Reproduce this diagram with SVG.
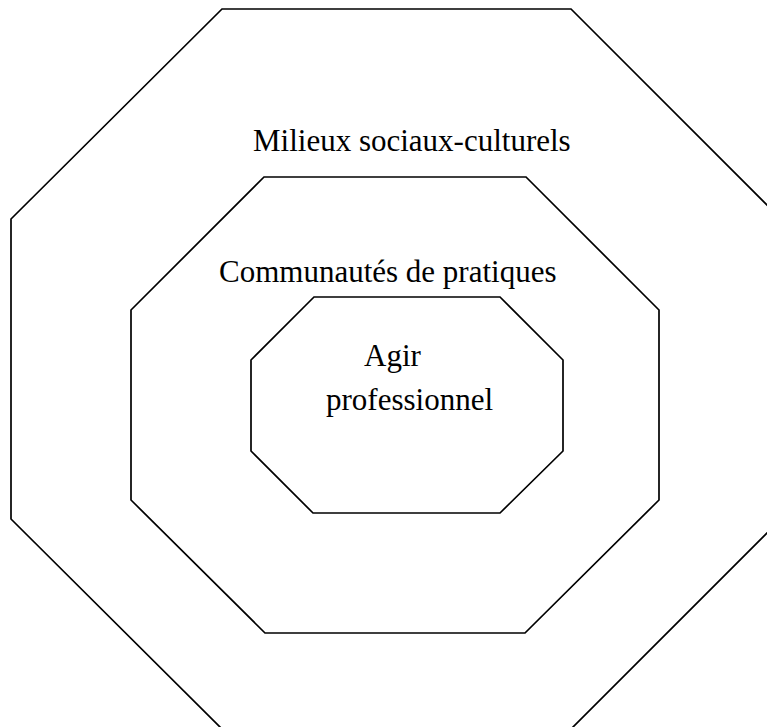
<svg xmlns="http://www.w3.org/2000/svg" width="767" height="727" viewBox="0 0 767 727">
<style>
.oct{fill:none;stroke:#000;stroke-width:1.7;stroke-linejoin:miter}
.lbl{font-family:"Liberation Serif","Times New Roman",serif;font-size:31px;fill:#000}
</style>
<rect width="767" height="727" fill="#fff"/>
<g id="outer">
<polygon class="oct" points="222,9 571,9 781,219 781,519 571,729 222,729 11,519 11,219"/>
<text class="lbl" x="253" y="151">Milieux sociaux-culturels</text>
</g>
<g id="middle">
<polygon class="oct" points="264,177 526,177 659,310 659,500 525,633 265,633 131,500 131,310"/>
<text class="lbl" x="219" y="282">Communautés de pratiques</text>
</g>
<g id="inner">
<polygon class="oct" points="314,297 500,297 563,360 563,451 500,513 313,513 251,451 251,360"/>
<text class="lbl" x="364" y="366">Agir</text>
<text class="lbl" x="326" y="410">professionnel</text>
</g>
<g id="connectors"/>
</svg>
